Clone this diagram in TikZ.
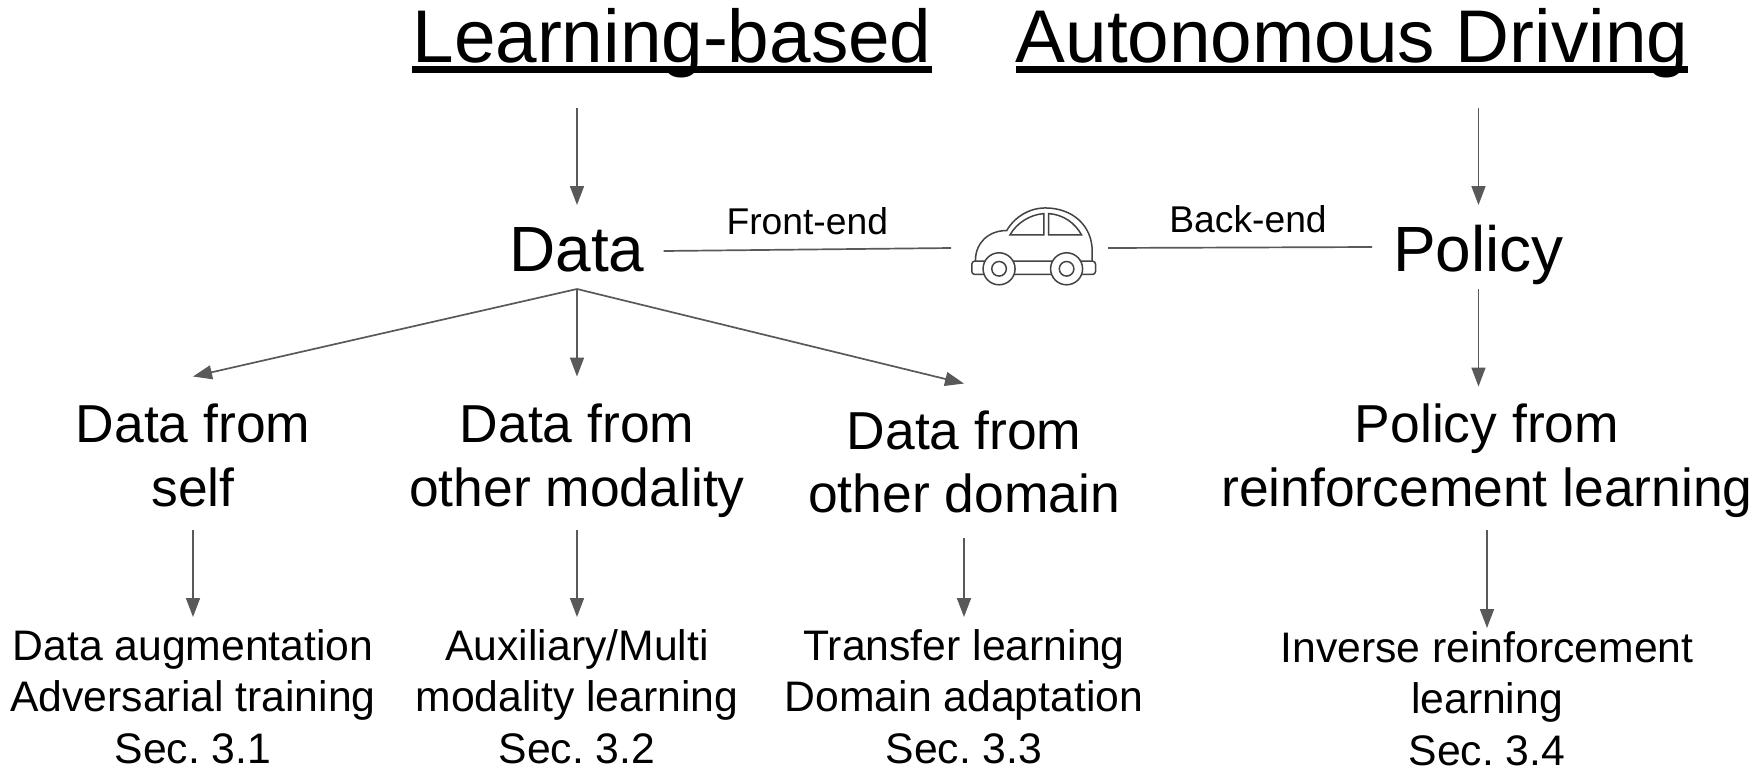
\documentclass[tikz,border=0pt]{standalone}
\usepackage{fontspec}
\setmainfont{Liberation Sans}
\usetikzlibrary{positioning,arrows.meta}
\definecolor{linegray}{HTML}{595959}
\definecolor{cargray}{HTML}{434343}
\newcommand{\titlebar}[1]{\sbox0{#1}\rlap{\usebox0}\rule[-.11cm]{\wd0}{.07cm}}
\newcommand{\topgap}[1]{\rule{0pt}{#1}}
\newcommand{\botgap}[1]{\rule[-#1]{0pt}{#1}}

\begin{document}
\begin{tikzpicture}[on grid, >={Triangle[length=.19cm,width=.14cm]},
    arrowline/.style={->, draw=linegray, fill=linegray, line width=.017cm},
    plainline/.style={draw=linegray, line width=.017cm},
    headtext/.style={inner sep=0pt, outer sep=0pt, text height=.6cm, text depth=.46cm, font=\fontsize{21.25}{25}\selectfont},
    maintext/.style={inner xsep=.21cm, inner ysep=0pt, outer sep=0pt, text height=.66cm, text depth=.18cm, font=\fontsize{18.2}{22}\selectfont},
    sidetext/.style={above, inner sep=.15cm, outer sep=0pt, font=\fontsize{10.6}{13}\selectfont},
    midtext/.style={align=center, inner sep=0pt, outer sep=0pt, font=\fontsize{15.2}{18.2}\selectfont},
    leaftext/.style={align=center, inner sep=0pt, outer sep=0pt, font=\fontsize{12.15}{14.65}\selectfont},
    carline/.style={draw=cargray, fill=white, line width=.015cm}]
\useasboundingbox (0,0) rectangle (17.57,-7.73);

\node[headtext] (learn) at (6.72,-.55) {\titlebar{Learning-based}};
\node[headtext, right=6.80cm of learn] (drive) {\titlebar{Autonomous Driving}};
\node[maintext, inner xsep=.19cm] (data) at (5.77,-2.47) {Data};
\node[maintext, right=9.015cm of data] (policy) {Policy};
\node[minimum width=1.57cm, minimum height=.8cm, inner sep=0pt, outer sep=0pt, right=4.525cm of data, yshift=-.01cm] (car) {};

\node[midtext, below=2.065cm of data] (modal) {\topgap{.656cm}Data from\\other modality\botgap{.244cm}};
\node[midtext, left=3.84cm of modal] (self) {\topgap{.656cm}Data from\\self\botgap{.244cm}};
\node[midtext, right=3.87cm of modal, yshift=-.075cm] (domain) {\topgap{.655cm}Data from\\other domain\botgap{.255cm}};
\node[midtext, right=9.10cm of modal] (rl) {\topgap{.656cm}Policy from\\reinforcement learning\botgap{.244cm}};

\node[leaftext, below=2.475cm of self] (aug) {\topgap{.43cm}Data augmentation\\Adversarial training\\Sec.\ 3.1\botgap{.22cm}};
\node[leaftext, below=2.475cm of modal] (aux) {\topgap{.43cm}Auxiliary/Multi\\modality learning\\Sec.\ 3.2\botgap{.22cm}};
\node[leaftext, below=2.40cm of domain] (trans) {\topgap{.43cm}Transfer learning\\Domain adaptation\\Sec.\ 3.3\botgap{.22cm}};
\node[leaftext, below=2.54cm of rl] (inv) {\topgap{.343cm}Inverse reinforcement\\learning\\Sec.\ 3.4\botgap{.217cm}};

\draw[arrowline] (learn.south -| data.north) -- (data.north);
\draw[arrowline] (drive.south -| policy.north) -- (policy.north);
\draw[arrowline] (data.south) -- (self.north);
\draw[arrowline] (data.south) -- (modal.north);
\draw[arrowline] (data.south) -- (domain.north);
\draw[arrowline, shorten >=-.1cm] (policy.south) -- (policy.south |- rl.north);
\draw[arrowline] (self.south) -- (aug.north);
\draw[arrowline] (modal.south) -- (aux.north);
\draw[arrowline] (domain.south) -- (trans.north);
\draw[arrowline] (rl.south) -- (inv.north);

\draw[plainline] ([yshift=-.04cm]data.east) -- node[sidetext] (front) {Front-end} (car.west);
\draw[plainline] (car.east) -- node[sidetext, pos=.53] (back) {Back-end} (policy.west);

% the car, in units of a third of a pixel
\begin{scope}[shift={(car.center)}, x=.003333cm, y=-.003333cm, shift={(-388.5,-205.5)}]
\draw[carline] (226,250) -- (226,243) .. controls (226,190) and (265,153) .. (320,153)
    .. controls (345,110) and (390,85) .. (435,85)
    .. controls (520,85) and (577,140) .. (577,215) -- (577,250);
\draw[carline] (330,166) .. controls (350,130) and (390,105) .. (432,102) -- (432,166) -- cycle;
\draw[carline] (446,102) .. controls (490,105) and (525,130) .. (545,166) -- (446,166) -- cycle;
\draw[carline, rounded corners=.03cm] (215,245) rectangle (587,285);
\foreach \wheelx in {297,500} {
    \draw[carline] (\wheelx,268) circle[radius=.16cm];
    \draw[carline] (\wheelx,268) circle[radius=.073cm];
}
\end{scope}
\end{tikzpicture}
\end{document}
